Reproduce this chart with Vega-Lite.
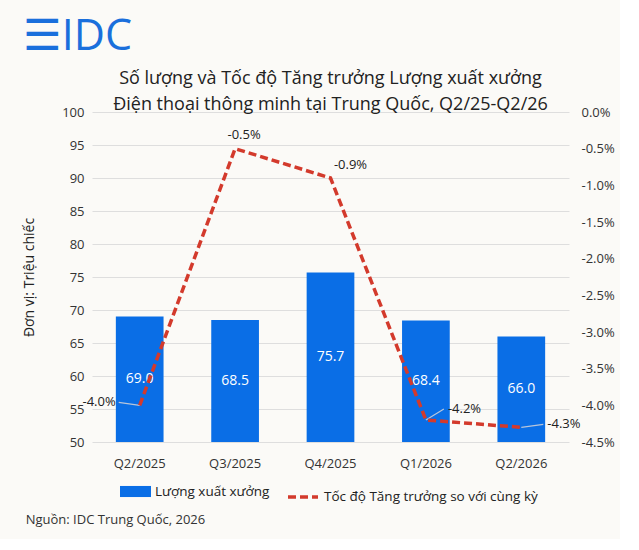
{
  "$schema": "https://vega.github.io/schema/vega-lite/v6.json",
  "background": "#fbfaf7",
  "padding": {"left": 22, "top": 16, "right": 5, "bottom": 12},
  "config": {
    "font": "Open Sans",
    "locale": {"number": {"decimal": ".", "thousands": ",", "grouping": [3], "currency": ["$", ""], "minus": "-"}},
    "view": {"stroke": null},
    "concat": {"spacing": 0},
    "axis": {"labelFontSize": 13, "labelColor": "#333333", "domain": false, "ticks": false, "labelPadding": 8, "gridColor": "#dedede"},
    "axisX": {"labelPadding": 15, "labelAngle": 0},
    "legend": {"orient": "none", "direction": "horizontal", "labelFontSize": 13.5, "labelColor": "#222222", "labelLimit": 300, "title": null}
  },
  "title": {"text": "Nguồn: IDC Trung Quốc, 2026", "orient": "bottom", "anchor": "start", "frame": "bounds", "fontSize": 13, "fontWeight": "normal", "color": "#333333", "offset": 10, "dx": 3},
  "vconcat": [
    {
      "title": {"text": "☰IDC", "anchor": "start", "frame": "bounds", "fontSize": 43, "fontWeight": "normal", "color": "#1a6fdc", "offset": 11},
      "vconcat": [
        {
          "width": 477,
          "height": 330,
          "title": {
            "text": ["Số lượng và Tốc độ Tăng trưởng Lượng xuất xưởng", "Điện thoại thông minh tại Trung Quốc, Q2/25-Q2/26"],
            "anchor": "middle",
            "fontSize": 18,
            "fontWeight": "normal",
            "color": "#222222",
            "lineHeight": 26,
            "offset": -8
          },
          "data": {
            "values": [
              {"quarter": "Q2/2025", "units": 69.0, "growth": -0.040},
              {"quarter": "Q3/2025", "units": 68.5, "growth": -0.005},
              {"quarter": "Q4/2025", "units": 75.7, "growth": -0.009},
              {"quarter": "Q1/2026", "units": 68.4, "growth": -0.042},
              {"quarter": "Q2/2026", "units": 66.0, "growth": -0.043}
            ]
          },
          "encoding": {
            "x": {"field": "quarter", "type": "nominal", "sort": null, "title": null, "scale": {"paddingInner": 0.5, "paddingOuter": 0.25}}
          },
          "layer": [
            {
              "mark": {"type": "bar", "color": "#0a6ee6"},
              "encoding": {
                "y": {"field": "units", "type": "quantitative", "scale": {"domain": [50, 100], "zero": false},
                  "axis": {"orient": "left", "values": [50, 55, 60, 65, 70, 75, 80, 85, 90, 95, 100], "title": "Đơn vị: Triệu chiếc", "titleFontSize": 14, "titleFontWeight": "normal", "titleColor": "#222222", "titlePadding": 25}},
                "y2": {"datum": 50},
                "color": {"datum": "Lượng xuất xưởng", "scale": {"range": ["#0a6ee6"]},
                  "legend": {"symbolType": "M-1.4,-0.5H1.4V0.5H-1.4Z", "symbolSize": 490, "symbolStrokeWidth": 0, "labelOffset": 8, "legendX": 32, "legendY": 368}}
              }
            },
            {
              "mark": {"type": "text", "color": "white", "fontSize": 14},
              "encoding": {
                "y": {"field": "units", "type": "quantitative", "scale": {"domain": [50, 150], "zero": false}, "axis": null},
                "text": {"field": "units", "type": "quantitative", "format": ".1f"}
              }
            },
            {
              "transform": [{"filter": "datum.quarter == 'Q2/2025'"}],
              "mark": {"type": "rule", "color": "#b9c6da", "strokeWidth": 1.2, "x2Offset": -21, "y2Offset": -3},
              "encoding": {
                "y": {"field": "growth", "type": "quantitative", "scale": {"domain": [-0.045, 0], "zero": false}, "axis": null},
                "x2": {"field": "quarter"},
                "y2": {"field": "growth"}
              }
            },
            {
              "transform": [{"filter": "datum.quarter == 'Q1/2026'"}],
              "mark": {"type": "rule", "color": "#b9c6da", "strokeWidth": 1.2, "x2Offset": 18, "y2Offset": -11},
              "encoding": {
                "y": {"field": "growth", "type": "quantitative", "scale": {"domain": [-0.045, 0], "zero": false}, "axis": null},
                "x2": {"field": "quarter"},
                "y2": {"field": "growth"}
              }
            },
            {
              "transform": [{"filter": "datum.quarter == 'Q2/2026'"}],
              "mark": {"type": "rule", "color": "#b9c6da", "strokeWidth": 1.2, "x2Offset": 22, "y2Offset": -3},
              "encoding": {
                "y": {"field": "growth", "type": "quantitative", "scale": {"domain": [-0.045, 0], "zero": false}, "axis": null},
                "x2": {"field": "quarter"},
                "y2": {"field": "growth"}
              }
            },
            {
              "mark": {"type": "line", "strokeWidth": 3.5, "strokeDash": [8, 4]},
              "encoding": {
                "y": {"field": "growth", "type": "quantitative", "scale": {"domain": [-0.045, 0], "zero": false},
                  "axis": {"orient": "right", "format": ".1%", "values": [0, -0.005, -0.01, -0.015, -0.02, -0.025, -0.03, -0.035, -0.04, -0.045], "grid": false, "title": null, "labelPadding": 12}},
                "stroke": {"datum": "Tốc độ Tăng trưởng so với cùng kỳ", "scale": {"range": ["#d33a2c"]},
                  "legend": {"symbolType": "stroke", "symbolSize": 900, "symbolStrokeWidth": 3.5, "symbolDash": [8, 4], "legendX": 194, "legendY": 368}}
              }
            },
            {
              "transform": [{"filter": "datum.quarter == 'Q3/2025'"}],
              "mark": {"type": "text", "fontSize": 13, "color": "#222222", "dx": 9, "dy": -14},
              "encoding": {
                "y": {"field": "growth", "type": "quantitative", "scale": {"domain": [-0.045, 0], "zero": false}, "axis": null},
                "text": {"field": "growth", "type": "quantitative", "format": ".1%"}
              }
            },
            {
              "transform": [{"filter": "datum.quarter == 'Q4/2025'"}],
              "mark": {"type": "text", "fontSize": 13, "color": "#222222", "dx": 20, "dy": -13},
              "encoding": {
                "y": {"field": "growth", "type": "quantitative", "scale": {"domain": [-0.045, 0], "zero": false}, "axis": null},
                "text": {"field": "growth", "type": "quantitative", "format": ".1%"}
              }
            },
            {
              "transform": [{"filter": "datum.quarter == 'Q2/2025'"}],
              "mark": {"type": "text", "fontSize": 13, "color": "#222222", "align": "right", "dx": -24, "dy": -3},
              "encoding": {
                "y": {"field": "growth", "type": "quantitative", "scale": {"domain": [-0.045, 0], "zero": false}, "axis": null},
                "text": {"field": "growth", "type": "quantitative", "format": ".1%"}
              }
            },
            {
              "transform": [{"filter": "datum.quarter == 'Q1/2026'"}],
              "mark": {"type": "text", "fontSize": 13, "color": "#222222", "align": "left", "dx": 22, "dy": -11},
              "encoding": {
                "y": {"field": "growth", "type": "quantitative", "scale": {"domain": [-0.045, 0], "zero": false}, "axis": null},
                "text": {"field": "growth", "type": "quantitative", "format": ".1%"}
              }
            },
            {
              "transform": [{"filter": "datum.quarter == 'Q2/2026'"}],
              "mark": {"type": "text", "fontSize": 13, "color": "#222222", "align": "left", "dx": 26, "dy": -3},
              "encoding": {
                "y": {"field": "growth", "type": "quantitative", "scale": {"domain": [-0.045, 0], "zero": false}, "axis": null},
                "text": {"field": "growth", "type": "quantitative", "format": ".1%"}
              }
            }
          ],
          "resolve": {"scale": {"y": "independent"}}
        }
      ]
    }
  ]
}
